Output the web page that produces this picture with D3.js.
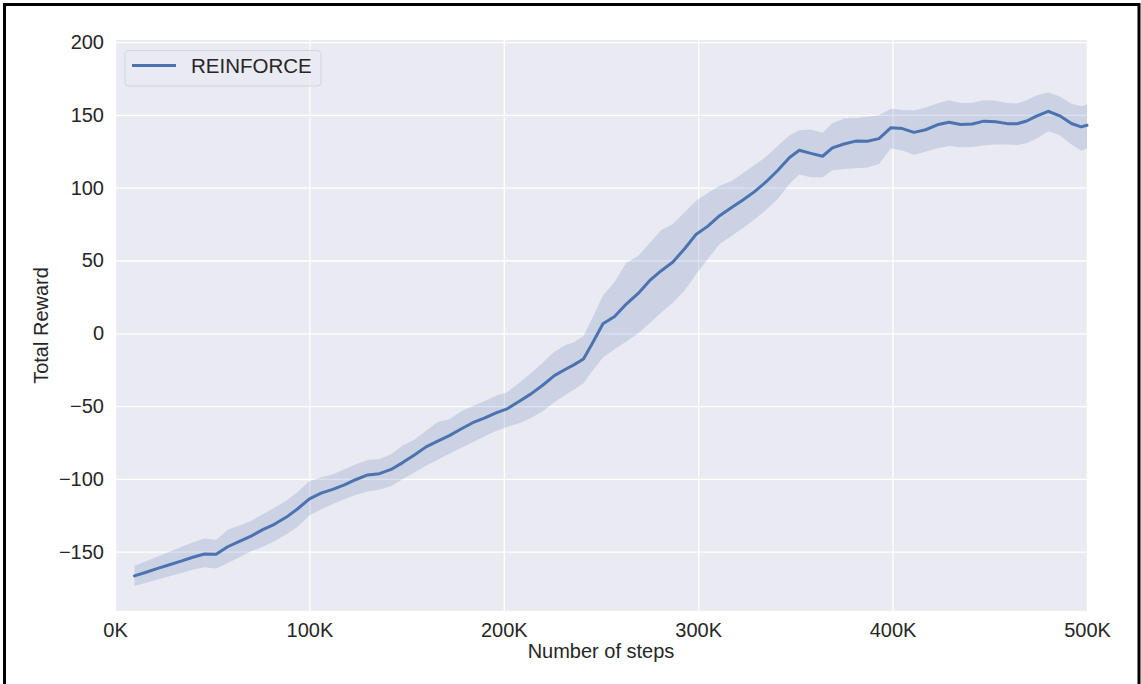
<!DOCTYPE html>
<html>
<head>
<meta charset="utf-8">
<script src="https://cdn.jsdelivr.net/npm/d3@7"></script>
<style>
    body { margin: 0; background: #fff; }
    svg text { font-family: "Liberation Sans", Arial, sans-serif; fill: #262626; }
</style>
</head>
<body>
<div class="chart"></div>
<script>
// steps, in thousands
const steps = [10, 16, 22, 28, 34, 40, 46, 52, 58, 64, 70, 76, 82, 88, 94, 100, 106, 112, 118, 124,
    130, 136, 142, 148, 154, 160, 166, 172, 178, 184, 190, 196, 202, 208, 214, 220, 226, 232, 236, 241,
    246, 251, 257, 263, 269, 275, 281, 287, 293, 299, 305, 311, 317, 323, 329, 335, 341, 347, 352, 358,
    364, 369, 375, 381, 387, 393, 399, 405, 411, 417, 423, 429, 435, 441, 447, 453, 459, 464, 469, 474,
    480, 486, 492, 497, 500]

const meanReward = [-166.6, -164.1, -161.5, -159.0, -156.5, -153.8, -151.6, -151.8, -146.6, -142.9,
    -139.3, -134.8, -131.2, -126.4, -120.5, -113.7, -109.8, -107.2, -104.1, -100.4,
    -97.3, -96.4, -93.5, -88.8, -83.6, -78.0, -74.0, -70.3, -65.7, -61.4,
    -58.2, -54.6, -51.7, -46.6, -41.6, -35.7, -29.1, -24.5, -21.7, -17.7,
    -5.8, 6.5, 11.5, 20.1, 27.2, 36.1, 43.0, 49.0, 58.1, 68.1,
    73.6, 80.8, 86.3, 91.6, 97.3, 104.1, 112.0, 120.7, 125.7, 123.6,
    121.6, 127.3, 130.0, 132.0, 131.9, 133.7, 141.1, 140.6, 138.0, 139.8,
    143.2, 144.9, 143.4, 143.8, 145.7, 145.3, 144.0, 143.9, 145.8, 149.1,
    152.5, 149.4, 144.1, 141.8, 142.9]

const upperReward = [-159.6, -156.5, -153.3, -150.0, -146.8, -143.6, -141.0, -142.0, -135.0, -132.0,
    -128.9, -124.2, -119.8, -115.0, -109.0, -101.4, -99.1, -96.8, -93.4, -90.0,
    -87.1, -86.3, -83.1, -77.1, -73.1, -67.0, -60.9, -59.0, -53.7, -50.0,
    -46.6, -42.9, -40.4, -34.0, -27.4, -20.2, -12.6, -7.9, -6.4, -1.8,
    11.7, 25.9, 35.2, 48.5, 52.9, 61.8, 71.0, 75.0, 83.1, 91.1,
    96.4, 101.3, 104.5, 110.0, 115.6, 121.4, 128.8, 136.0, 139.4, 139.9,
    137.8, 144.2, 147.5, 147.9, 148.7, 149.7, 154.3, 153.4, 153.1, 155.1,
    157.9, 160.0, 158.2, 158.3, 160.0, 159.7, 158.2, 157.8, 160.0, 163.4,
    165.5, 162.7, 157.6, 156.0, 157.1]

const lowerReward = [-173.5, -171.3, -169.1, -166.9, -164.6, -162.4, -160.6, -161.5, -157.8, -153.8,
    -149.7, -146.6, -142.9, -138.2, -132.9, -125.2, -121.1, -117.2, -114.0, -110.8,
    -108.7, -107.3, -105.0, -100.3, -95.6, -90.9, -86.9, -82.8, -78.8, -74.9,
    -70.8, -67.1, -64.1, -61.7, -58.2, -53.6, -47.3, -42.0, -38.7, -34.3,
    -25.0, -16.7, -10.9, -5.7, -0.1, 6.9, 14.3, 20.9, 29.4, 40.8,
    51.2, 61.3, 66.7, 72.3, 78.2, 84.9, 92.4, 102.7, 109.1, 107.2,
    107.1, 112.0, 112.8, 113.3, 113.9, 116.3, 126.9, 125.5, 122.7, 124.7,
    127.1, 128.6, 127.7, 127.9, 129.1, 129.6, 129.6, 129.3, 130.6, 133.7,
    138.7, 136.1, 129.7, 125.4, 126.9]

const xTicks = [0, 100, 200, 300, 400, 500]
const yTicks = [-150, -100, -50, 0, 50, 100, 150, 200]
const seriesName = 'REINFORCE'

function drawChart() {
    const width = 1141,
        height = 684
    const left = 115, right = 1087, top = 40, bottom = 611

    const data = steps.map((s, i) => {
        return { step: s, mean: meanReward[i], hi: upperReward[i], lo: lowerReward[i] }
    })

    const x = d3.scaleLinear()
        .domain([0, 500])
        .range([left, right])
    const y = d3.scaleLinear()
        .domain([-(bottom - 333.3) / 1.456, (333.3 - top) / 1.456])
        .range([bottom, top])

    const svg = d3.select('.chart').append('svg')
        .attr('width', width)
        .attr('height', height)

    // фон области графика
    svg.append('rect')
        .attr('x', left)
        .attr('y', top)
        .attr('width', right - left)
        .attr('height', bottom - top)
        .style('fill', '#EAEAF2')

    // сетка
    svg.append('g')
        .attr('class', 'gridY')
        .attr('transform', 'translate(' + left + ',0)')
        .call(d3.axisLeft(y).tickValues(yTicks).tickSize(-(right - left)).tickFormat(''))
        .call(g => g.select('.domain').remove())
        .selectAll('line')
        .style('stroke', '#fff')
        .style('stroke-width', 1.3)
    svg.append('g')
        .attr('class', 'gridX')
        .attr('transform', 'translate(0,' + bottom + ')')
        .call(d3.axisBottom(x).tickValues(xTicks).tickSize(-(bottom - top)).tickFormat(''))
        .call(g => g.select('.domain').remove())
        .selectAll('line')
        .style('stroke', '#fff')
        .style('stroke-width', 1.3)

    const area = d3.area()
        .x(d => x(d.step))
        .y0(d => y(d.lo))
        .y1(d => y(d.hi))
    svg.append('path')
        .datum(data)
        .attr('d', area)
        .style('fill', '#4C72B0')
        .style('fill-opacity', 0.2)

    const line = d3.line()
        .x(d => x(d.step))
        .y(d => y(d.mean))
    svg.append('path')
        .datum(data)
        .attr('d', line)
        .style('fill', 'none')
        .style('stroke', '#4C72B0')
        .style('stroke-width', 3)
        .style('stroke-linejoin', 'round')
        .style('stroke-linecap', 'round')

    // подписи осей
    const axisY = svg.append('g')
        .attr('transform', 'translate(' + left + ',0)')
        .call(d3.axisLeft(y).tickValues(yTicks).tickSize(0).tickPadding(11))
    axisY.select('.domain').remove()
    axisY.selectAll('text')
        .style('font-size', '20px')
        .style('font-family', '"Liberation Sans", Arial, sans-serif')
        .style('fill', '#262626')

    const axisX = svg.append('g')
        .attr('transform', 'translate(0,' + bottom + ')')
        .call(d3.axisBottom(x).tickValues(xTicks).tickSize(0).tickPadding(12)
            .tickFormat(d => d + 'K'))
    axisX.select('.domain').remove()
    axisX.selectAll('text')
        .style('font-size', '20px')
        .style('font-family', '"Liberation Sans", Arial, sans-serif')
        .style('fill', '#262626')

    svg.append('text')
        .attr('x', (left + right) / 2)
        .attr('y', 658)
        .style('text-anchor', 'middle')
        .style('font-size', '20px')
        .text('Number of steps')

    svg.append('text')
        .attr('transform', 'translate(48,' + ((top + bottom) / 2) + ') rotate(-90)')
        .style('text-anchor', 'middle')
        .style('font-size', '20px')
        .text('Total Reward')

    // легенда
    const legend = svg.append('g')
        .attr('class', 'legend')
    legend.append('rect')
        .attr('x', 125)
        .attr('y', 50.5)
        .attr('width', 196)
        .attr('height', 35.5)
        .attr('rx', 4)
        .style('fill', '#EAEAF2')
        .style('fill-opacity', 0.8)
        .style('stroke', '#d4d4dc')
        .style('stroke-width', 1)
    legend.append('line')
        .attr('x1', 132)
        .attr('x2', 176)
        .attr('y1', 65.5)
        .attr('y2', 65.5)
        .style('stroke', '#4C72B0')
        .style('stroke-width', 3)
    legend.append('text')
        .attr('x', 191)
        .attr('y', 72.5)
        .style('font-size', '20.5px')
        .text(seriesName)

    // рамка
    svg.append('rect')
        .attr('x', 4.5)
        .attr('y', 4.5)
        .attr('width', 1134.5)
        .attr('height', 690)
        .style('fill', 'none')
        .style('stroke', '#000')
        .style('stroke-width', 3)
}

drawChart()
</script>
</body>
</html>
